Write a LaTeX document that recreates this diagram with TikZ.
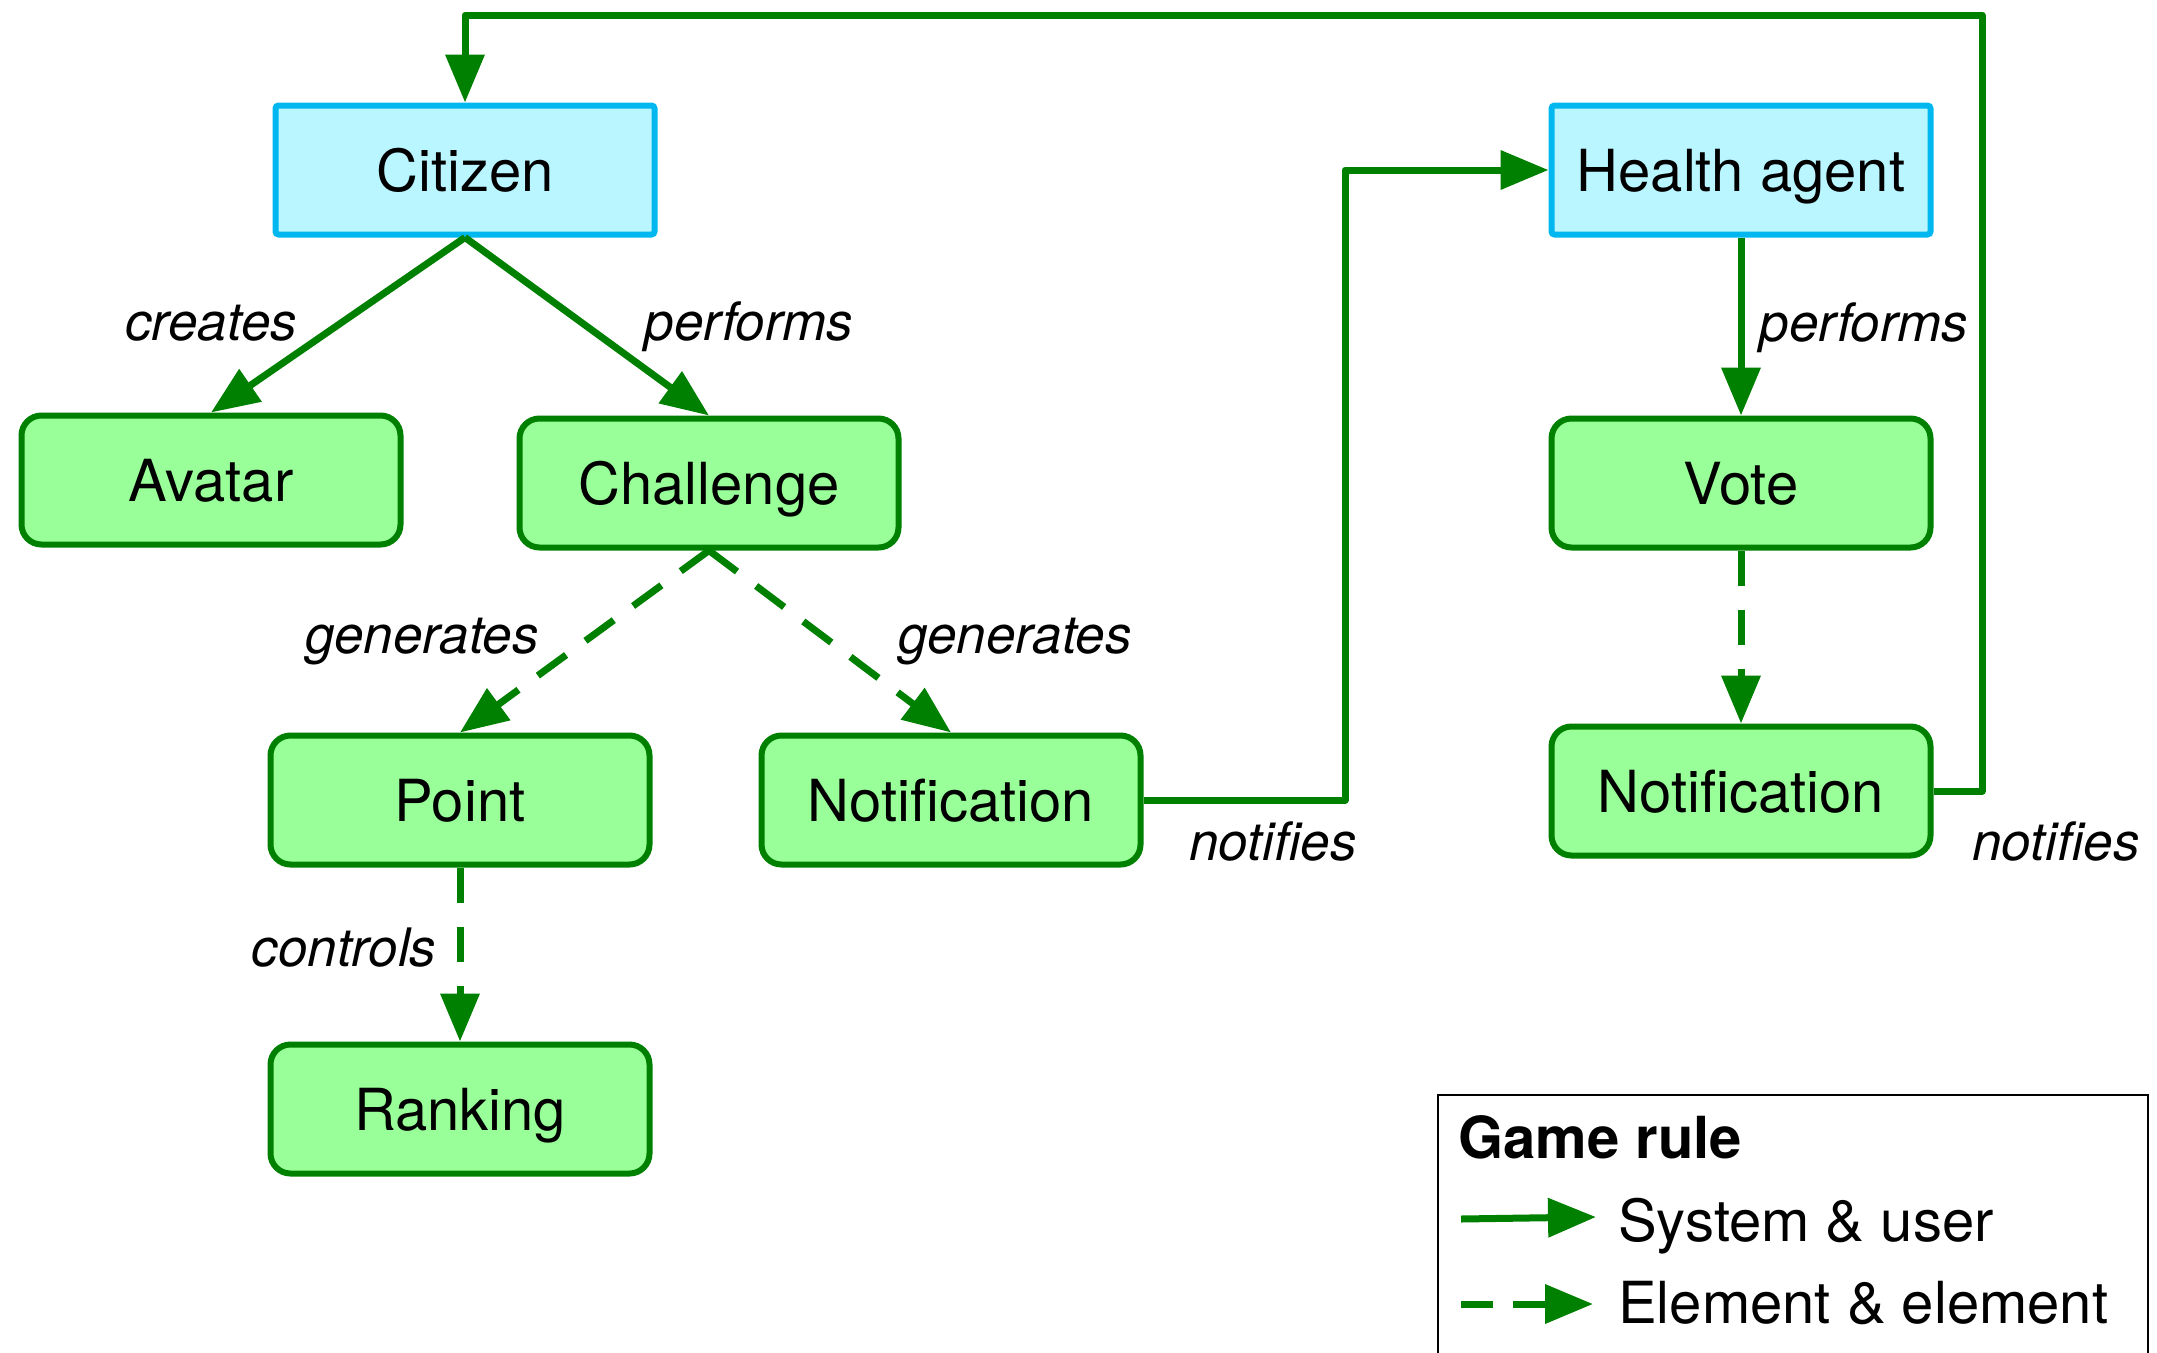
\documentclass[tikz,border=0pt]{standalone}
\usepackage{fontspec}
\setmainfont{TeX Gyre Heros}
\usetikzlibrary{arrows.meta}
\definecolor{flowgreen}{RGB}{0,128,0}
\definecolor{elemfill}{RGB}{153,255,153}
\definecolor{actorfill}{RGB}{186,246,255}
\definecolor{actorline}{RGB}{0,183,240}

\begin{document}
\begin{tikzpicture}[x=1pt,y=-1pt,
  boxbase/.style={line width=6pt, minimum width=379pt, minimum height=129pt,
    inner sep=0pt, font=\fontsize{58}{64}\selectfont, text height=42pt, text depth=0pt},
  element/.style={boxbase, draw=flowgreen, fill=elemfill, rounded corners=20pt},
  actor/.style={boxbase, draw=actorline, fill=actorfill, rounded corners=3pt},
  lbl/.style={font=\fontsize{53}{60}\selectfont\itshape, anchor=base, inner sep=0pt},
  legtext/.style={font=\fontsize{58}{64}\selectfont, anchor=base west, inner sep=0pt},
  rel/.style={draw=flowgreen, line width=7pt, line join=round,
    -{Triangle[length=48pt,width=38pt]}},
  elemrel/.style={rel, dash pattern=on 35pt off 24pt},
]
\useasboundingbox (0,0) rectangle (2157,1352);
\clip (0,0) rectangle (2157,1352);

% actors
\node[actor] (citizen) at (465,170) {Citizen};
\node[actor] (health)  at (1741,170) {Health agent};

% game elements
\node[element] (avatar)    at (211,480)  {Avatar};
\node[element] (challenge) at (709,483)  {Challenge};
\node[element] (vote)      at (1741,483) {Vote};
\node[element] (point)     at (460,800)  {Point};
\node[element] (notifA)    at (951,800)  {Notification};
\node[element] (notifB)    at (1741,791) {Notification};
\node[element] (ranking)   at (460,1109) {Ranking};

% routing points of the feedback lines
\coordinate (bendA) at (1345,170);
\coordinate (loopR) at (1982,15);

% system & user relations
\draw[rel] (citizen.south) -- (avatar.north);
\draw[rel] (citizen.south) -- (challenge.north);
\draw[rel] (health.south) -- (vote.north);
\draw[rel] (notifA.east) -| (bendA) -- (health.west);
\draw[rel] (notifB.east) -| (loopR) -| (citizen.north);

% element & element relations
\draw[elemrel] (challenge.south) -- (point.north);
\draw[elemrel] (challenge.south) -- (notifA.north);
\draw[elemrel] (point.south) -- (ranking.north);
\draw[elemrel] (vote.south) -- (notifB.north);

% relation labels
\node[lbl] (lcreates)   at (211,340)  {creates};
\node[lbl] (lperformA)  at (749,340)  {performs};
\node[lbl] (lgenA)      at (422,653)  {generates};
\node[lbl] (lgenB)      at (1015,653) {generates};
\node[lbl] (lnotifA)    at (1273,860) {notifies};
\node[lbl] (lperformB)  at (1864,341) {performs};
\node[lbl] (lnotifB)    at (2056,860) {notifies};
\node[lbl] (lcontrols)  at (344,966)  {controls};

% legend
\draw[black, line width=2pt] (1438,1095) rectangle (2148,1400);
\node[legtext, font=\fontsize{58}{64}\selectfont\bfseries] (legtitle) at (1458,1158) {Game rule};
\node[legtext] (legsys)  at (1618,1241) {System \& user};
\node[legtext] (legelem) at (1618,1323) {Element \& element};
\coordinate (sysA) at (1461,1219);
\coordinate (sysB) at (1596,1217);
\coordinate (elemA) at (1461,1304);
\coordinate (elemB) at (1593,1304);
\draw[rel] (sysA) -- (sysB);
\draw[rel, dash pattern=on 32pt off 20pt] (elemA) -- (elemB);
\end{tikzpicture}
\end{document}
